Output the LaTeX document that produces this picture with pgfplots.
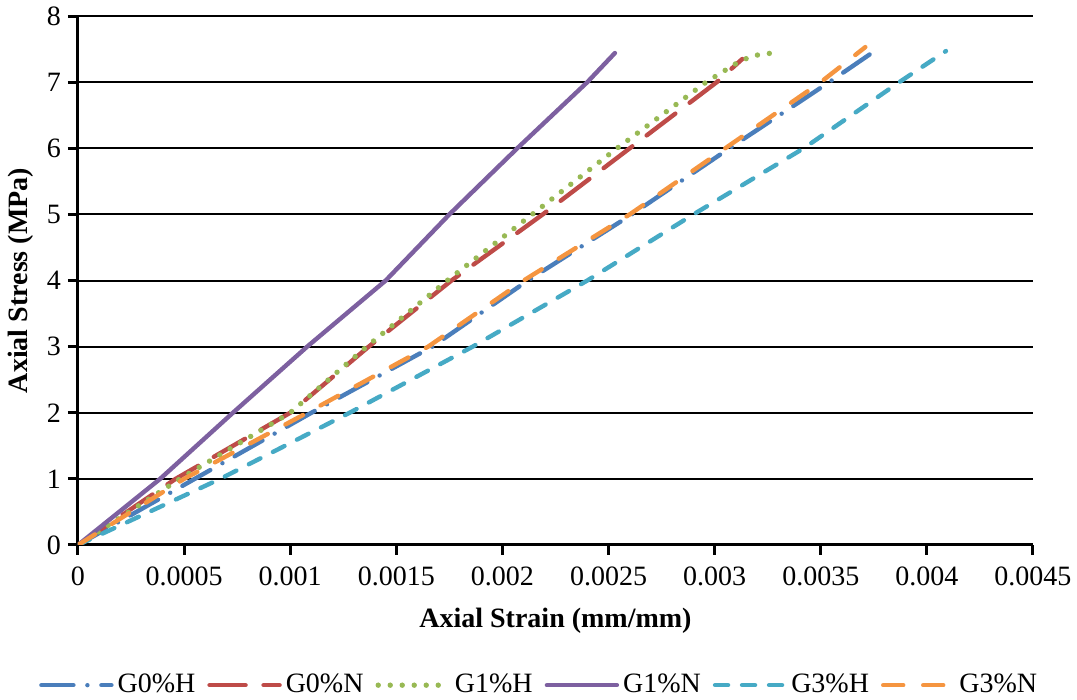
\documentclass[border=0pt]{standalone}
\usepackage{fontspec}
\setmainfont{Liberation Serif}
\usepackage{pgfplots}
\pgfplotsset{compat=1.18}

\definecolor{cgzh}{HTML}{4A7EBB}
\definecolor{cgzn}{HTML}{BE4B48}
\definecolor{cgoh}{HTML}{98B954}
\definecolor{cgon}{HTML}{7D60A0}
\definecolor{cgth}{HTML}{46AAC5}
\definecolor{cgtn}{HTML}{F59540}

\begin{document}
\begin{tikzpicture}[font=\fontsize{14}{16.8}\selectfont]
\path[use as bounding box] (-39pt,-77.5pt) rectangle (499.5pt,272.5pt);
\begin{axis}[
  at={(0pt,0pt)}, anchor=south west,
  scale only axis, width=477.5pt, height=264.5pt,
  xmin=0, xmax=0.0045, ymin=0, ymax=8,
  axis lines*=left,
  axis line style={line width=1.5pt, black},
  xtick={0,0.0005,0.001,0.0015,0.002,0.0025,0.003,0.0035,0.004,0.0045},
  xticklabels={0,0.0005,0.001,0.0015,0.002,0.0025,0.003,0.0035,0.004,0.0045},
  ytick={0,1,2,3,4,5,6,7,8},
  scaled x ticks=false,
  /pgf/number format/assume math mode=true,
  tick align=outside, major tick length=5pt,
  tick style={line width=1.5pt, black},
  xticklabel style={yshift=-2.5pt},
  ymajorgrids, major grid style={line width=1pt, black},
  xlabel={\textbf{Axial Strain (mm/mm)}},
  xlabel style={yshift=-4pt},
  ylabel={\textbf{Axial Stress (MPa)}},
  every axis plot/.append style={line width=2.2pt, line cap=round, line join=round},
  legend image code/.code={\draw[#1] (0pt,0pt) -- (35pt,0pt);},
  legend style={at={(0.484,-0.265)}, anchor=center, draw=none, fill=none,
    legend columns=6,
    /tikz/every even column/.append style={column sep=4pt},
    /tikz/every odd column/.append style={column sep=0pt}},
]
% G0%H
\addplot[color=cgzh, dash pattern=on 16pt off 7pt on 0pt off 7pt] coordinates {
 (0,0) (0.00055,1) (0.0011,2) (0.00167,3) (0.00212,4) (0.00261,5) (0.00307,6) (0.00354,7) (0.00374,7.44)};
\addlegendentry{G0\%H}
% G0%N
\addplot[color=cgzn, dash pattern=on 18pt off 9pt] coordinates {
 (0,0) (0.00046,1) (0.001,2) (0.00137,3) (0.00176,4) (0.00219,5) (0.0026,6) (0.00301,7) (0.00313,7.35)};
\addlegendentry{G0\%N}
% G1%H
\addplot[color=cgoh, line width=2.7pt, dash pattern=on 0pt off 6pt] coordinates {
 (0,0) (0.00048,1) (0.001,2) (0.00136,3) (0.00174,4) (0.00214,5) (0.00254,6) (0.00296,7) (0.00311,7.3) (0.00318,7.4) (0.00327,7.44)};
\addlegendentry{G1\%H}
% G1%N
\addplot[color=cgon, solid] coordinates {
 (0,0) (0.000387,1) (0.00073,2) (0.00108,3) (0.00145,4) (0.00175,5) (0.00207,6) (0.0024,7) (0.00253,7.44)};
\addlegendentry{G1\%N}
% G3%H
\addplot[color=cgth, dash pattern=on 6.5pt off 7pt] coordinates {
 (0,0) (0.00067,1) (0.00128,2) (0.00186,3) (0.0024,4) (0.0029,5) (0.00342,6) (0.00387,7) (0.00409,7.47)};
\addlegendentry{G3\%H}
% G3%N
\addplot[color=cgtn, dash pattern=on 10pt off 10pt] coordinates {
 (0,0) (0.0005,1) (0.00108,2) (0.00165,3) (0.0021,4) (0.0026,5) (0.00305,6) (0.0035,7) (0.00371,7.53)};
\addlegendentry{G3\%N}
\end{axis}
\end{tikzpicture}
\end{document}
